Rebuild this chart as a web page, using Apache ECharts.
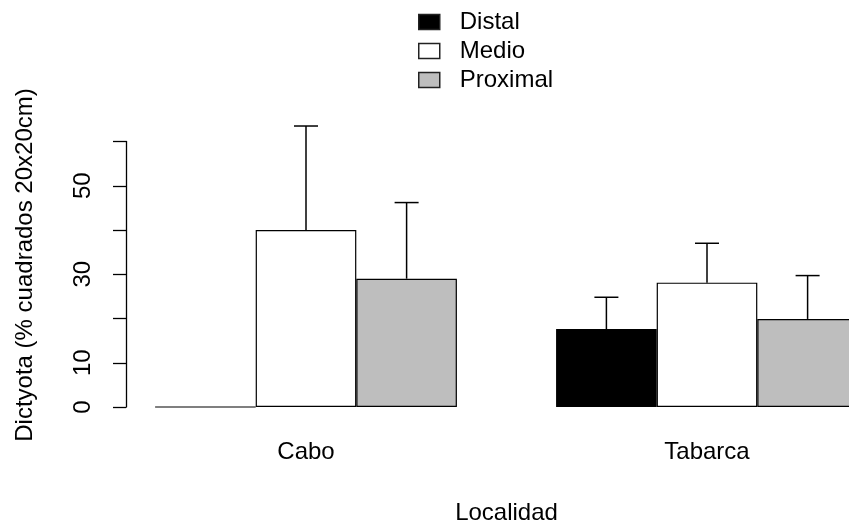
<!DOCTYPE html>
<html>
<head>
<meta charset="utf-8">
<script src="https://cdn.jsdelivr.net/npm/echarts@6/dist/echarts.min.js"></script>
<style>
  html, body { margin: 0; padding: 0; background: #fff; }
  #chart { width: 849px; height: 527px; }
</style>
</head>
<body>
<div id="chart"></div>
<script>
// data (mean + upper error limit)
const categories = ['Cabo', 'Tabarca']
const seriesNames = ['Distal', 'Medio', 'Proximal']
const distal = [0, 17.6]
const medio = [40.0, 28.1]
const proximal = [29.0, 19.9]
const distalUpper = [0, 24.8]
const medioUpper = [63.5, 37.0]
const proximalUpper = [46.2, 29.7]
const yTickLabels = [0, 10, 30, 50]

const FONT = 'Liberation Sans, Arial, sans-serif'
const colors = ['#000000', '#ffffff', '#bebebe']
const barW = 100.6

const chart = echarts.init(document.getElementById('chart'))

// error bars as [catIndex, value, upper, seriesIndex]
const errData = []
const vals = [distal, medio, proximal]
const ups = [distalUpper, medioUpper, proximalUpper]
for (let k = 0; k < 3; k++) {
  for (let i = 0; i < categories.length; i++) {
    errData.push([i, vals[k][i], ups[k][i], k])
  }
}

const barSeries = seriesNames.map(function (name, k) {
  return {
    name: name,
    type: 'bar',
    data: vals[k],
    barWidth: barW,
    barGap: '0%',
    itemStyle: { color: colors[k], borderColor: '#000', borderWidth: 1.2 },
    emphasis: { disabled: true },
    animation: false
  }
})

const option = {
  animation: false,
  grid: { left: 105.5, right: -58.5, top: 141.5, bottom: 120, outerBoundsMode: 'none', containLabel: false },
  legend: {
    orient: 'vertical',
    left: 413,
    top: 5,
    itemWidth: 21,
    itemHeight: 15,
    itemGap: 5,
    icon: 'rect',
    selectedMode: false,
    textStyle: { fontFamily: FONT, fontSize: 24, color: '#000', lineHeight: 24, padding: [0, 0, 0, 15] },
    data: seriesNames.map(function (n, k) {
      return { name: n, itemStyle: { color: colors[k], borderColor: '#222', borderWidth: 1.5 } }
    })
  },
  xAxis: {
    type: 'category',
    data: categories,
    axisLine: { show: false },
    axisTick: { show: false },
    axisLabel: { fontFamily: FONT, fontSize: 24, color: '#000', margin: 33 },
    name: 'Localidad',
    nameLocation: 'middle',
    nameGap: 94,
    nameTextStyle: { fontFamily: FONT, fontSize: 24, color: '#000' }
  },
  yAxis: {
    type: 'value',
    min: 0,
    max: 60,
    interval: 10,
    offset: -20.5,
    splitLine: { show: false },
    axisLine: { show: true, lineStyle: { color: '#000', width: 1.3 } },
    axisTick: { show: true, length: 13, lineStyle: { color: '#000', width: 1.3 } },
    axisLabel: {
      rotate: 90,
      margin: 31,
      fontFamily: FONT,
      fontSize: 24,
      color: '#000',
      formatter: function (v) { return yTickLabels.indexOf(v) >= 0 ? String(v) : '' }
    }
  },
  graphic: [{
    type: 'text',
    x: 25,
    y: 265,
    rotation: Math.PI / 2,
    style: {
      text: 'Dictyota (% cuadrados 20x20cm)',
      font: '24px ' + FONT,
      fill: '#000',
      textAlign: 'center',
      textVerticalAlign: 'middle'
    }
  }],
  series: barSeries.concat([{
    type: 'custom',
    data: errData,
    silent: true,
    clip: false,
    renderItem: function (params, api) {
      const cat = api.value(0)
      const v = api.value(1)
      const up = api.value(2)
      const k = api.value(3)
      if (!(up > v)) return null
      const base = api.coord([cat, v])
      const top = api.coord([cat, up])
      const x = base[0] + (k - 1) * barW
      const st = { stroke: '#000', lineWidth: 1.5 }
      return {
        type: 'group',
        children: [
          { type: 'line', shape: { x1: x, y1: base[1], x2: x, y2: top[1] }, style: st },
          { type: 'line', shape: { x1: x - 12, y1: top[1], x2: x + 12, y2: top[1] }, style: st }
        ]
      }
    }
  }])
}

chart.setOption(option)
</script>
</body>
</html>
